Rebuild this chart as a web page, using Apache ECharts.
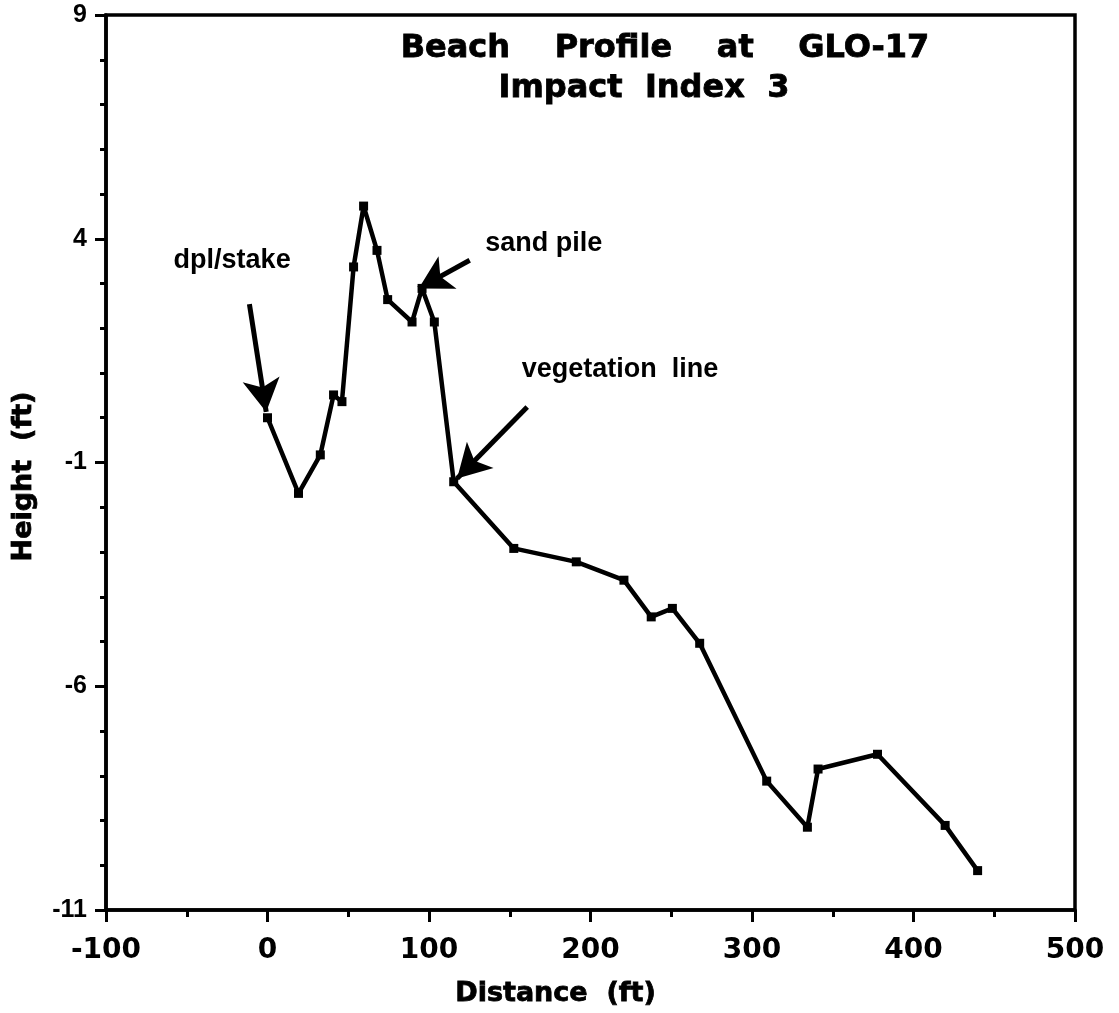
<!DOCTYPE html>
<html><head><meta charset="utf-8">
<script src="https://cdn.jsdelivr.net/npm/echarts@6/dist/echarts.min.js"></script>
<style>html,body{margin:0;padding:0;background:#fff}#c{width:1119px;height:1013px}</style>
</head><body><div id="c"></div>
<script>
// Survey points (distance ft, height ft)
const distance = [0, 19.2, 32.7, 40.9, 46.1, 53.3, 59.5, 67.8, 74.4, 89.5, 95.7, 103.3, 115.3, 152.5, 191.2, 220.7, 237.6, 250.7, 267.6, 309.1, 334.3, 340.9, 377.7, 419.6, 439.7];
const height = [0, -1.69, -0.83, 0.51, 0.36, 3.37, 4.73, 3.74, 2.64, 2.14, 2.89, 2.14, -1.43, -2.92, -3.22, -3.63, -4.45, -4.26, -5.04, -8.12, -9.15, -7.85, -7.52, -9.11, -10.12];
const titleLines = ['Beach    Profile    at    GLO-17', 'Impact  Index  3'];
const xName = 'Distance  (ft)';
const yName = 'Height  (ft)';
// Annotations (data coordinates)
const annotationText = ['dpl/stake', 'sand pile', 'vegetation  line'];
const annotationAt = [[-21.9, 3.52], [171.1, 3.89], [218.3, 1.08]];
const arrowFrom = [[-11.2, 2.54], [125.2, 3.52], [160.8, 0.24]];
const arrowTo = [[-0.8, 0.13], [93.6, 2.89], [117.4, -1.355]];

const chart = echarts.init(document.getElementById('c'), null, {renderer: 'canvas'});
const boldWide = '"DejaVu Sans", sans-serif';
const helv = '"Liberation Sans", Arial, sans-serif';
const heavy = {textBorderColor: '#000', textBorderWidth: 0.8};
chart.setOption({
  animation: false,
  backgroundColor: '#fff',
  title: [
    {text: titleLines[0], left: 665, top: 33, padding: 0, textAlign: 'center',
     textStyle: Object.assign({fontFamily: boldWide, fontWeight: 'bold', fontSize: 32, color: '#000'}, heavy)},
    {text: titleLines[1], left: 644, top: 73, padding: 0, textAlign: 'center',
     textStyle: Object.assign({fontFamily: boldWide, fontWeight: 'bold', fontSize: 32, color: '#000'}, heavy)}
  ],
  grid: {left: 106, right: 44, top: 15, bottom: 103, show: true, borderColor: '#000', borderWidth: 3.5, containLabel: false},
  xAxis: {
    type: 'value', min: -100, max: 500, interval: 100,
    axisLine: {onZero: false, lineStyle: {color: '#000', width: 3.5}},
    axisTick: {inside: false, length: 12, lineStyle: {color: '#000', width: 3}},
    minorTick: {show: true, splitNumber: 2, length: 7, lineStyle: {color: '#000', width: 3}},
    splitLine: {show: false}, minorSplitLine: {show: false},
    axisLabel: {margin: 27, color: '#000', fontSize: 28, fontWeight: 'bold', fontFamily: boldWide},
    name: xName, nameLocation: 'middle', nameGap: 70,
    nameTextStyle: Object.assign({color: '#000', fontSize: 27, fontWeight: 'bold', fontFamily: boldWide, padding: [0, 70, 0, 0]}, heavy)
  },
  yAxis: {
    type: 'value', min: -11, max: 9, interval: 5,
    axisLine: {onZero: false, lineStyle: {color: '#000', width: 3.5}},
    axisTick: {inside: false, length: 11, lineStyle: {color: '#000', width: 3}},
    minorTick: {show: true, splitNumber: 5, length: 6, lineStyle: {color: '#000', width: 3}},
    splitLine: {show: false}, minorSplitLine: {show: false},
    axisLabel: {margin: 19, color: '#000', fontSize: 25, fontWeight: 'bold', fontFamily: helv},
    name: yName, nameLocation: 'middle', nameGap: 69,
    nameTextStyle: Object.assign({color: '#000', fontSize: 27, fontWeight: 'bold', fontFamily: boldWide, padding: [0, 28, 0, 0]}, heavy)
  },
  series: [{
    type: 'line',
    data: distance.map((d, i) => [d, height[i]]),
    symbol: 'rect', symbolSize: 9,
    lineStyle: {color: '#000', width: 4.5},
    itemStyle: {color: '#000'},
    markLine: {
      silent: true, animation: false,
      symbol: ['none', 'arrow'],
      symbolSize: 32,
      lineStyle: {color: '#000', width: 5, type: 'solid'},
      itemStyle: {color: '#000'},
      label: {show: false},
      data: arrowFrom.map((f, i) => [
        {coord: f, symbol: 'none'},
        {coord: arrowTo[i], symbol: 'arrow', symbolSize: [28, 33]}
      ])
    },
    markPoint: {
      silent: true, animation: false,
      symbol: 'circle', symbolSize: 1,
      itemStyle: {color: 'rgba(0,0,0,0)'},
      label: {show: true, position: 'inside', formatter: '{b}', color: '#000', fontSize: 27, fontFamily: helv, fontWeight: 'bold'},
      data: annotationText.map((t, i) => ({name: t, coord: annotationAt[i]}))
    }
  }]
});
</script></body></html>
